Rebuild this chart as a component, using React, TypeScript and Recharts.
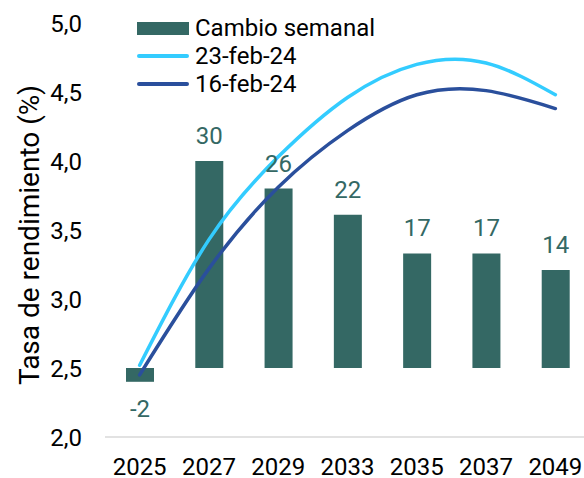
import React from 'react';
import { ComposedChart, Bar, Line, XAxis, YAxis, Legend, LabelList } from 'recharts';

const years = ['2025', '2027', '2029', '2033', '2035', '2037', '2049'];
const cambioSemanal = [-2, 30, 26, 22, 17, 17, 14];
const barBase = 2.5;
const barTops = [2.4, 4.0, 3.8, 3.61, 3.33, 3.33, 3.21];
const feb23 = [2.52, 3.43, 4.03, 4.46, 4.7, 4.71, 4.48];
const feb16 = [2.45, 3.22, 3.81, 4.22, 4.48, 4.51, 4.38];
const yTicks = [2.0, 2.5, 3.0, 3.5, 4.0, 4.5, 5.0];

const BAR_COLOR = '#346864';
const LIGHT = '#33CCFF';
const DARK = '#2A4F9C';
const FONT = 'Roboto, "Liberation Sans", sans-serif';
const FS = 24;

const data = years.map((y, i) => ({
  year: y,
  cambio: cambioSemanal[i],
  rango: [Math.min(barBase, barTops[i]), Math.max(barBase, barTops[i])],
  f23: feb23[i],
  f16: feb16[i],
}));

const BarLabel = (props: any) => {
  const { x, y, width, height, value } = props;
  const top = Math.min(y, y + height);
  const bottom = Math.max(y, y + height);
  const cx = x + width / 2;
  const neg = value < 0;
  return (
    <text
      x={cx}
      y={neg ? bottom + 35 : top - 17}
      textAnchor="middle"
      fill={BAR_COLOR}
      fontSize={FS}
      fontFamily={FONT}
    >
      {value}
    </text>
  );
};

const LegendContent = () => {
  const row: React.CSSProperties = { display: 'flex', alignItems: 'center', height: 28 };
  const text: React.CSSProperties = { fontFamily: FONT, fontSize: FS, color: '#000', marginLeft: 6, lineHeight: '28px', whiteSpace: 'nowrap' };
  return (
    <div>
      <div style={row}>
        <div style={{ width: 52, height: 13, background: BAR_COLOR }} />
        <span style={text}>Cambio semanal</span>
      </div>
      <div style={row}>
        <div style={{ width: 52, height: 4, borderRadius: 2, background: LIGHT }} />
        <span style={text}>23-feb-24</span>
      </div>
      <div style={row}>
        <div style={{ width: 52, height: 4, borderRadius: 2, background: DARK }} />
        <span style={text}>16-feb-24</span>
      </div>
    </div>
  );
};

const YLabel = (props: any) => {
  const vb = props.viewBox || { x: 0, y: 23, width: 105, height: 414 };
  const cx = vb.x + 29;
  const cy = vb.y + vb.height / 2 + 5;
  return (
    <text
      x={cx}
      y={cy}
      transform={`rotate(-90, ${cx}, ${cy})`}
      textAnchor="middle"
      dominantBaseline="central"
      fontSize={28}
      fontFamily={FONT}
      fill="#000"
    >
      Tasa de rendimiento (%)
    </text>
  );
};

export default function App() {
  return (
    <div style={{ position: 'absolute', left: 0, top: 0, width: 584, height: 478, overflow: 'hidden', background: '#fff' }}>
      <ComposedChart width={590} height={478} data={data} margin={{ top: 23, right: 0, bottom: 0, left: 0 }}>
        <XAxis
          dataKey="year"
          height={41}
          tickLine={false}
          tickSize={0}
          tickMargin={21}
          axisLine={{ stroke: '#d9d9d9', strokeWidth: 1.5 }}
          tick={{ fill: '#000', fontSize: FS, fontFamily: FONT }}
          interval={0}
        />
        <YAxis
          width={105}
          domain={[2, 5]}
          ticks={yTicks}
          interval={0}
          axisLine={false}
          tickLine={false}
          tickSize={0}
          tickMargin={23}
          tickFormatter={(v: number) => v.toFixed(1).replace('.', ',')}
          tick={{ fill: '#000', fontSize: FS, fontFamily: FONT }}
          label={<YLabel />}
        />
        <Legend layout="vertical" align="center" verticalAlign="middle" wrapperStyle={{ left: 137, top: 14, width: 'auto' }} content={<LegendContent />} />
        <Bar dataKey="rango" fill={BAR_COLOR} barSize={28} isAnimationActive={false}>
          <LabelList dataKey="cambio" content={<BarLabel />} />
        </Bar>
        <Line type="natural" dataKey="f16" stroke={DARK} strokeWidth={3.5} strokeLinecap="round" dot={false} activeDot={false} isAnimationActive={false} />
        <Line type="natural" dataKey="f23" stroke={LIGHT} strokeWidth={3.5} strokeLinecap="round" dot={false} activeDot={false} isAnimationActive={false} />
      </ComposedChart>
    </div>
  );
}
